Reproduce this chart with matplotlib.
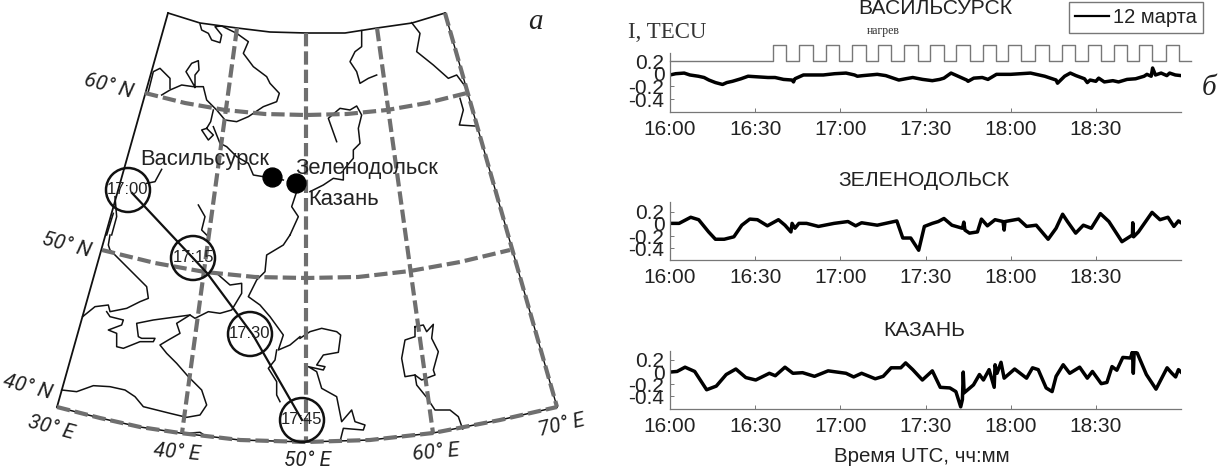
#!/usr/bin/env python3
import matplotlib
matplotlib.use('Agg')
from matplotlib import pyplot as plt
from matplotlib.patches import Circle

W, H = 1225, 470
SANS = ['Liberation Sans', 'DejaVu Sans']
SERIF = ['Liberation Serif', 'DejaVu Serif']
GRAY = '#6f6f6f'

# time in minutes after 16:00
t_vas = [0, 2, 5, 7, 10, 12, 13.7, 16, 18.5, 20, 22, 25, 27.5, 31, 34.5, 37, 40, 43, 43.5, 44, 47, 50, 54, 58, 62,
         65, 66, 68, 73, 76, 80.6, 83, 85.5, 89, 92.4, 95, 96.5, 99, 101, 104.5, 105, 107, 110, 112, 115, 120, 127,
         130, 132, 136, 136.5, 139, 141, 143, 146, 147, 148, 150, 151, 153, 156, 158, 161, 164, 167, 168, 169.5,
         170, 171, 173, 175, 176, 178, 180]
v_vas = [-0.02, 0, 0.01, -0.02, -0.04, -0.06, -0.10, -0.14, -0.17, -0.14, -0.12, -0.08, -0.04, -0.05, -0.06, -0.06,
         -0.09, -0.10, -0.13, -0.08, -0.02, -0.02, -0.02, 0, 0.01, -0.02, -0.04, -0.03, -0.01, -0.03, -0.10, -0.08,
         -0.06, -0.09, -0.11, -0.09, -0.07, 0.01, -0.03, -0.10, -0.12, -0.07, -0.06, -0.09, -0.01, -0.01, 0.01,
         -0.02, -0.04, -0.10, -0.15, -0.04, 0.01, -0.03, -0.08, -0.14, -0.10, -0.12, -0.07, -0.13, -0.11, -0.13,
         -0.09, -0.08, -0.04, -0.01, -0.04, 0.09, -0.02, 0.01, -0.03, 0.01, -0.02, -0.03]

t_zel = [0, 3.2, 7.3, 10.1, 13.6, 16, 19.1, 22.5, 25.3, 28.1, 30.8, 34.3, 38.2, 40.5, 42.6, 43, 44, 45.4, 48.1, 52.3,
         57.8, 62.7, 65.4, 67.5, 73, 79.9, 82, 84.8, 87.6, 89.6, 92.4, 94.5, 96.5, 99.3, 103, 103.5, 103.9, 105.5,
         108.3, 109.7, 111.8, 114.5, 117.3, 117.7, 118, 122.8, 125.6, 129, 133.2, 136, 138.3, 140, 142.9, 145.6,
         148.4, 151.6, 154.6, 159.2, 162.9, 163, 163.3, 165, 169.8, 172.6, 175.4, 177.5, 179.1, 180]
v_zel = [0.01, 0.01, 0.11, 0.07, -0.13, -0.25, -0.25, -0.21, -0.02, 0.08, 0.07, -0.03, 0.07, -0.02, -0.13, 0.01,
         -0.07, 0.01, 0.01, -0.04, 0.01, 0.04, -0.03, 0.02, -0.02, 0.05, -0.23, -0.23, -0.43, -0.04, 0.01, 0.04,
         0.09, -0.02, -0.07, 0.03, -0.10, -0.15, -0.13, 0.08, -0.03, 0.07, 0.04, -0.10, 0.04, 0.08, -0.04, -0.02,
         -0.25, -0.07, 0.16, 0.04, -0.15, -0.02, -0.07, 0.17, 0.04, -0.29, -0.18, 0.02, -0.21, -0.13, 0.19, 0.07,
         0.11, -0.04, 0.05, 0.02]

t_kaz = [0, 2.5, 5.3, 8.7, 12.9, 16.3, 19.8, 23.2, 26.7, 30.2, 35, 37.1, 40.5, 43.3, 46.7, 50.9, 55.7, 62, 64.7,
         67.5, 72.3, 75.1, 77.9, 81.3, 83, 85.5, 88.9, 92.4, 95.2, 98.6, 100.7, 102.4, 103, 103.3, 103.6, 106.9,
         109, 110.4, 112.4, 114.2, 114.5, 115.2, 116.6, 117.7, 121.4, 125.6, 127.7, 129.7, 132.5, 134.6, 136, 138.5,
         140.8, 144.3, 147, 148.8, 151.9, 153.9, 155.7, 157.4, 159.5, 162.2, 162.9, 163.2, 163.5, 164.6, 167.8,
         171.2, 175.1, 176.8, 178.1, 179.1, 180]
v_kaz = [0, 0.01, 0.08, 0.01, -0.29, -0.23, -0.04, 0.05, -0.09, -0.13, -0.02, -0.06, 0.08, -0.02, -0.01, -0.07, 0.02,
         -0.02, -0.08, -0.02, -0.11, -0.07, 0.07, 0.07, 0.15, 0.04, -0.13, 0.02, -0.25, -0.26, -0.32, -0.57, -0.45,
         0, -0.34, -0.21, -0.04, -0.13, 0.04, -0.25, 0.12, -0.02, 0.16, -0.10, 0.05, -0.10, 0.07, 0.04, -0.26,
         -0.32, -0.07, 0.12, -0.02, 0.08, -0.10, 0.01, -0.19, -0.17, 0.09, 0.03, 0.24, 0.23, 0.33, -0.02, 0.33, 0.31,
         -0.04, -0.28, 0.07, -0.02, -0.08, 0.04, 0]

# heater on/off switching times, minutes after 16:00
heat_on = [36.2, 45.6, 54.9, 64.2, 73.3, 82.4, 91.7, 100.9, 110.1, 119.1, 128.7, 138, 147.3, 156.3, 165.3, 174.7]
heat_off = [40.8, 50.3, 59.6, 68.9, 78, 87.3, 96.5, 105.7, 114.7, 123.8, 133.5, 142.6, 151.9, 160.9, 169.9, 179.3]
heat_end = 183.4
heat_low, heat_high = 0.2, 0.453

x_ticks = [0, 30, 60, 90, 120, 150]
x_labels = ['16:00', '16:30', '17:00', '17:30', '18:00', '18:30']
y_ticks = [0.2, 0, -0.2, -0.4]
y_labels = ['0.2', '0', '-0.2', '-0.4']
panels = [('ВАСИЛЬСУРСК', t_vas, v_vas), ('ЗЕЛЕНОДОЛЬСК', t_zel, v_zel), ('КАЗАНЬ', t_kaz, v_kaz)]
panel_boxes = [(53, 111.7, -0.60, 0.327), (202, 260, -0.59, 0.36), (350.7, 409, -0.605, 0.35)]
title_pos = [(935, 8), (924, 180), (924, 330)]

# map outline, screen pixels of the figure
top_arc = [(168, 13), (200, 23), (237, 28), (270, 32), (306, 33), (345, 33), (377, 28), (412, 23), (445, 13)]
left_edge = [(168, 13), (57, 407)]
bottom_arc = [(57, 407), (100, 418), (140, 427), (180, 433), (240, 440), (306, 442), (370, 440), (433, 433),
              (500, 420), (557, 407)]
right_edge = [(445, 13), (557, 407)]
meridians = [[(237, 28), (182, 433)], [(306, 33), (306, 442)], [(377, 28), (433, 433)]]
parallels = [[(145, 93), (185, 103), (225, 110), (265, 114), (306, 115), (347, 114), (387, 110), (427, 103), (467, 93)],
             [(102, 250), (155, 263), (205, 272), (255, 277), (306, 278), (358, 277), (410, 271), (460, 262), (510, 250)]]

coast = [
    (0, 0, [(600, 72), (605, 90), (625, 100), (635, 120), (660, 128), (665, 105), (645, 80), (665, 78), (710, 100),
            (745, 125), (730, 160), (760, 200), (800, 230), (810, 250), (838, 280), (830, 305), (790, 320), (745, 350),
            (710, 365), (675, 360), (650, 330), (620, 300), (610, 260), (580, 260), (545, 255), (510, 270), (485, 285)]),
    (0, 0, [(510, 265), (510, 235), (480, 205), (460, 215), (445, 275)]),
    (0, 0, [(585, 262), (570, 235), (558, 215), (575, 190), (595, 182), (597, 210), (585, 225), (585, 262)]),
    (0, 0, [(640, 330), (632, 365), (620, 385), (605, 390), (625, 420), (640, 405), (620, 385)]),
    (0, 0, [(640, 380), (660, 430), (680, 440), (710, 470), (745, 490), (760, 525), (790, 530), (850, 540)]),
    (0, 0, [(485, 508), (465, 545), (440, 550)]),
    (0, 0, [(345, 590), (350, 650), (335, 705)]),
    (0, 0, [(320, 705), (340, 640)]),
    (0, 0, [(595, 615), (615, 650), (605, 690), (620, 705)]),
    (0, 0, [(890, 575), (875, 620), (895, 650), (870, 705)]),
    (0, 235, [(330, 0), (325, 30), (330, 45), (385, 100), (440, 155), (445, 190), (420, 200), (380, 220), (330, 230),
              (325, 210), (285, 215), (248, 245)]),
    (0, 235, [(320, 230), (330, 245), (370, 255), (365, 270), (325, 285), (350, 295), (350, 335), (370, 340), (420, 320),
              (460, 320), (465, 310), (425, 310), (415, 305), (410, 265), (460, 255), (570, 240), (585, 250), (625, 230),
              (660, 235), (695, 225), (725, 175), (725, 145), (690, 150), (650, 115)]),
    (0, 235, [(570, 240), (530, 265), (540, 295), (505, 315), (480, 330), (500, 355), (530, 385), (565, 425), (605, 465),
              (620, 510), (600, 540), (560, 547), (510, 535), (430, 515), (405, 485), (375, 465), (330, 455), (280, 452),
              (230, 470), (185, 465)]),
    (0, 235, [(555, 595), (600, 592), (620, 605)]),
    (0, 235, [(870, 0), (850, 30), (800, 60), (795, 110), (770, 135), (745, 185), (780, 210), (810, 245), (850, 300),
              (835, 345), (870, 330), (900, 305)]),
    (0, 235, [(830, 345), (825, 375), (805, 400), (830, 440), (830, 480), (840, 500)]),
    (300, 235, [(0, 310), (30, 290), (65, 280), (110, 290), (122, 300), (115, 352), (70, 360), (50, 390), (75, 395),
                (70, 405), (25, 395), (50, 410), (65, 460), (110, 485), (125, 560), (155, 525), (165, 560), (195, 570),
                (190, 585), (130, 580), (122, 612)]),
    (300, 235, [(345, 275), (370, 270), (380, 290), (400, 268), (395, 310), (415, 350), (400, 405), (405, 420),
                (365, 435), (345, 420), (315, 425), (305, 370), (315, 315), (345, 305), (345, 275)]),
    (300, 235, [(345, 420), (350, 450), (380, 487), (405, 525), (450, 525), (475, 545), (488, 582)]),
    (300, 0, [(185, 92), (185, 140), (165, 155), (150, 185), (170, 215), (180, 250), (205, 235), (230, 225)]),
    (300, 0, [(335, 68), (360, 100), (350, 155), (400, 195), (445, 235), (470, 225), (500, 265)]),
    (300, 0, [(480, 295), (490, 330), (478, 375), (525, 378)]),
    (300, 0, [(110, 425), (85, 355), (120, 325), (150, 330), (170, 318), (185, 345), (175, 385), (180, 430), (160, 450),
              (160, 475), (130, 510), (130, 540), (100, 535), (70, 555), (30, 575)]),
]

track = [(132, 193), (207, 273), (253, 335), (302, 420)]
circle_xy = [(128, 190), (193, 258), (250, 334), (302, 420)]
circle_labels = ['17:00', '17:15', '17:30', '17:45']
cities = [(272, 177), (296, 183)]
city_labels = [('Васильсурск', 140, 165), ('Зеленодольск', 295, 174), ('Казань', 308, 205)]
grid_labels = [('60° N', 109, 86, -15), ('50° N', 67, 245, -15), ('40° N', 28, 387, -15), ('30° E', 51, 428, -15),
               ('40° E', 177, 453, -5), ('50° E', 307, 461, 0), ('60° E', 436, 452, 5), ('70° E', 562, 425, 13)]


def xs(pts):
    return [p[0] for p in pts]


def ys(pts):
    return [p[1] for p in pts]


fig = plt.figure(figsize=(W / 100, H / 100), dpi=100)

# one axes over the whole figure for the map and loose text, y down like the picture
m = fig.add_axes([0, 0, 1, 1])
m.set_xlim(0, W)
m.set_ylim(H, 0)
m.axis('off')

for x0, y0, pts in coast:
    m.plot([x0 + p[0] / 3 for p in pts], [y0 + p[1] / 3 for p in pts], color='#111111', lw=1.1, zorder=2)

dash = dict(color=GRAY, lw=3.0, dashes=(3.2, 1.2), zorder=3)
m.plot(xs(top_arc), ys(top_arc), color='#111111', lw=1.2, zorder=2)
m.plot(xs(left_edge), ys(left_edge), color='#111111', lw=1.3, zorder=2)
m.plot(xs(bottom_arc), ys(bottom_arc), color='#111111', lw=1.1, zorder=2)
m.plot(xs(bottom_arc), ys(bottom_arc), **dash)
m.plot(xs(right_edge), ys(right_edge), color='#111111', lw=1.0, zorder=2)
m.plot(xs(right_edge), ys(right_edge), **dash)
for line in meridians + parallels:
    m.plot(xs(line), ys(line), **dash)

m.plot(xs(track), ys(track), color='#111111', lw=1.6, zorder=4)
for (cx, cy), lab in zip(circle_xy, circle_labels):
    m.add_patch(Circle((cx, cy), 22, fill=False, ec='#111111', lw=1.8, zorder=5))
    m.text(cx, cy, lab, family=SANS, fontsize=12, ha='center', va='center', color='#222222', zorder=6)
m.scatter(xs(cities), ys(cities), s=185, color='black', zorder=6)
for lab, x, y in city_labels:
    m.text(x, y, lab, family=SANS, fontsize=15.8, ha='left', va='baseline', color='#222222', zorder=7)
for lab, x, y, rot in grid_labels:
    m.text(x, y, lab, family=['Roboto', 'DejaVu Sans'], fontsize=15, style='italic', ha='center',
           va='center', rotation=rot, rotation_mode='anchor', color='#222222')

m.text(535, 22, 'а', family=SERIF, fontsize=21, style='italic', ha='center', va='center', color='#222222')
m.text(1209, 88, 'б', family=SERIF, fontsize=21, style='italic', ha='center', va='center', color='#222222')
m.text(628, 33, 'I, TECU', family=SERIF, fontsize=16.5, ha='left', va='center', color='#333333')
m.text(883, 31, 'нагрев', family=SERIF, fontsize=8.5, ha='center', va='center', color='#333333')
m.text(922, 456, 'Время UTC, чч:мм', family=SANS, fontsize=14.8, ha='center', va='center', color='#222222')
for (name, _, _), (x, y) in zip(panels, title_pos):
    m.text(x, y, name, family=SANS, fontsize=15.2, ha='center', va='center', color='#222222')

# heater square wave starts from 16:00 at the low level
heat_t, heat_v = [0], [heat_low]
for on, off in zip(heat_on, heat_off):
    heat_t += [on, on, off, off]
    heat_v += [heat_low, heat_high, heat_high, heat_low]
heat_t.append(heat_end)
heat_v.append(heat_low)

x_left, x_right = 670, 1181
for i, ((name, t, v), (top, bottom, ymin, ymax)) in enumerate(zip(panels, panel_boxes)):
    ax = fig.add_axes([x_left / W, 1 - bottom / H, (x_right - x_left) / W, (bottom - top) / H])
    ax.patch.set_alpha(0)
    line, = ax.plot(t, v, color='black', lw=2.5, label='12 марта')
    if i == 0:
        ax.plot(heat_t, heat_v, color='#777777', lw=1.0, clip_on=False)
        leg = ax.legend(handles=[line], loc='upper left', bbox_to_anchor=(1069 / W, 1 - 2 / H),
                        bbox_transform=fig.transFigure, fancybox=False, framealpha=1, edgecolor='#777777',
                        prop={'family': SANS, 'size': 14.5}, borderaxespad=0, borderpad=0.3, handlelength=1.7,
                        handletextpad=0.2, labelcolor='#222222')
        leg.get_lines()[0].set_linewidth(1.6)
    ax.set_xlim(0, 180)
    ax.set_ylim(ymin, ymax)
    ax.set_xticks(x_ticks, x_labels, family=SANS, fontsize=15, color='#222222')
    ax.set_yticks(y_ticks, y_labels, family=SANS, fontsize=15, color='#222222')
    ax.tick_params(direction='in', length=3, width=0.7, color='#777777')
    ax.tick_params(axis='x', pad=6)
    ax.tick_params(axis='y', pad=4)
    for side in ('top', 'right'):
        ax.spines[side].set_visible(False)
    for side in ('left', 'bottom'):
        ax.spines[side].set_color('#777777')
        ax.spines[side].set_linewidth(0.9)

fig.savefig('out.png', dpi=100)
